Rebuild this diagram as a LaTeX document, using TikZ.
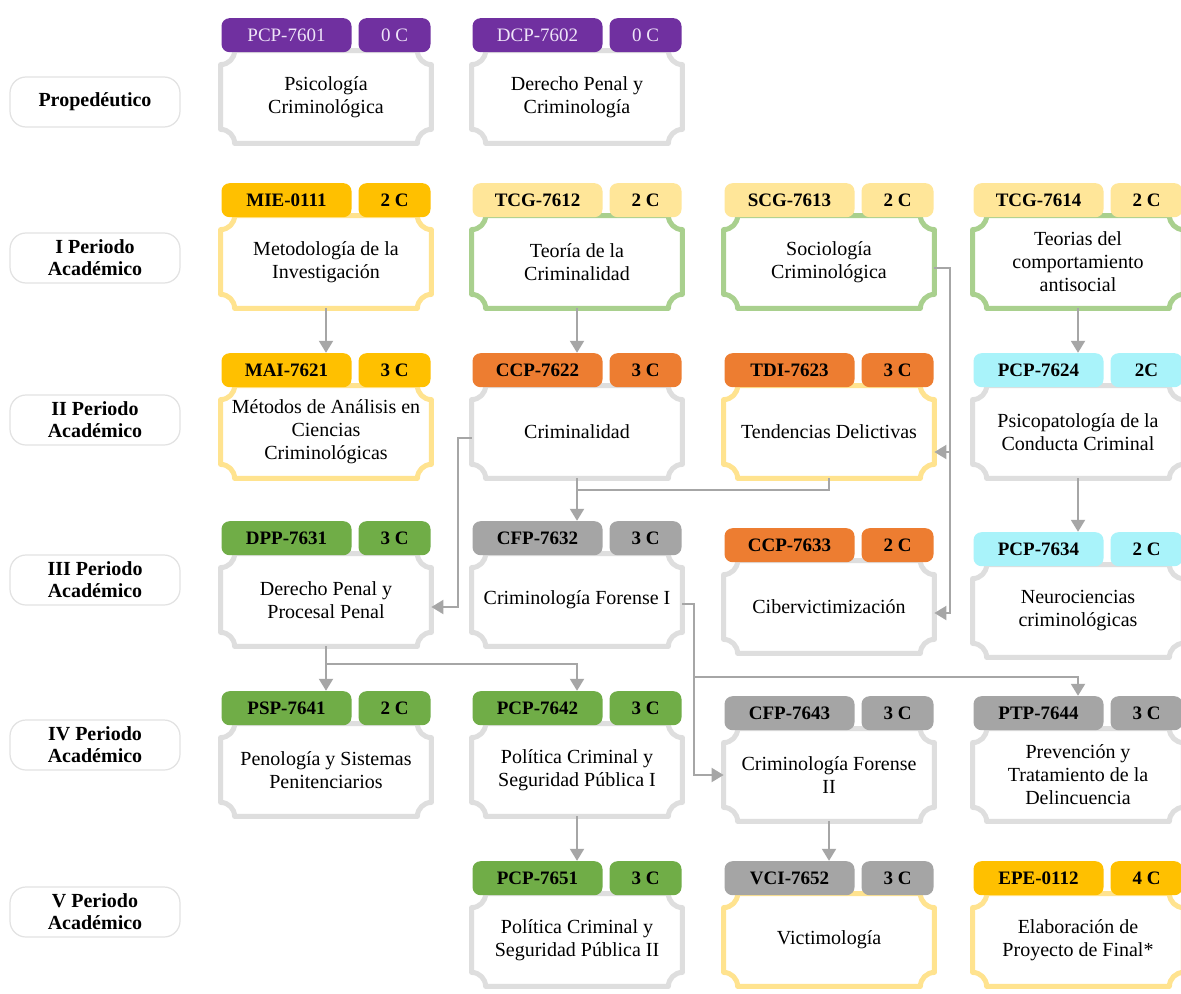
\documentclass[tikz,border=0pt]{standalone}
\usepackage{fontspec}
\setmainfont{Liberation Serif}
\usepackage{xcolor}
\usetikzlibrary{arrows.meta,positioning,calc}
\definecolor{purp}{HTML}{7030A0}
\definecolor{purptxt}{HTML}{EEE4F8}
\definecolor{gold}{HTML}{FFC000}
\definecolor{pale}{HTML}{FFE699}
\definecolor{orng}{HTML}{ED7D31}
\definecolor{cyan2}{HTML}{A9F3FA}
\definecolor{grn}{HTML}{70AD47}
\definecolor{gry}{HTML}{A5A5A5}
\definecolor{plqS}{HTML}{DEDEDE}
\definecolor{plqY}{HTML}{FFE38F}
\definecolor{plqN}{HTML}{A9D08E}
\definecolor{arrc}{HTML}{A6A6A6}
\definecolor{lab}{HTML}{E2E2E2}
% one course: plaque body + code tab + credit tab
\newcommand{\course}[7]{%
  \node[body] (#1) at (#2) {#7};
  \draw[plaque=#6] ($(#1.north west)+(7pt,0)$) -- ($(#1.north east)+(-7pt,0)$)
    arc[start angle=180,end angle=270,radius=7pt] -- ($(#1.south east)+(0,7pt)$)
    arc[start angle=90,end angle=180,radius=7pt] -- ($(#1.south west)+(7pt,0)$)
    arc[start angle=0,end angle=90,radius=7pt] -- ($(#1.north west)+(0,-7pt)$)
    arc[start angle=270,end angle=360,radius=7pt] -- cycle;
  \node[codetab, #3, anchor=south west] (#1c) at ($(#1.north west)+(0.25pt,-1pt)$) {#4};
  \node[credtab, #3, anchor=south east] (#1k) at ($(#1.north east)+(-0.25pt,-1pt)$) {#5};
}

\begin{document}
\begin{tikzpicture}[x=0.5pt, y=0.5pt,
  body/.style={minimum width=105pt, minimum height=46pt, inner sep=1pt,
               align=center, font=\fontsize{10}{11.5}\selectfont},
  plaque/.style={draw=#1, line width=2.5pt, line join=round},
  codetab/.style={rounded corners=4pt, minimum width=65pt, minimum height=17pt,
                  inner sep=0pt, font=\bfseries\fontsize{9.5}{11}\selectfont},
  credtab/.style={codetab, minimum width=36pt},
  tP/.style={fill=purp, text=purptxt, font=\fontsize{9.5}{11}\selectfont},
  tG/.style={fill=gold}, tY/.style={fill=pale}, tO/.style={fill=orng},
  tC/.style={fill=cyan2}, tN/.style={fill=grn}, tS/.style={fill=gry},
  per/.style={draw=lab, line width=0.6pt, rounded corners=8pt, minimum width=85pt,
              minimum height=25pt, inner sep=1pt, align=center,
              font=\bfseries\fontsize{10}{11}\selectfont},
  arr/.style={draw=arrc, line width=1pt, -{Triangle[length=6pt,width=7pt]}},
  ln/.style={draw=arrc, line width=1pt}]
\fill[white] (0,0) rectangle (1181,993);
\useasboundingbox (0,0) rectangle (1181,993);

% periods
\node[per] (p0) at (95,891) {Propedéutico};
\node[per] (p1) at (95,735) {I Periodo\\Académico};
\node[per] (p2) at (95,573) {II Periodo\\Académico};
\node[per] (p3) at (95,413) {III Periodo\\Académico};
\node[per] (p4) at (95,248) {IV Periodo\\Académico};
\node[per] (p5) at (95,81) {V Periodo\\Académico};

% courses
\course{pcp01}{326,896}{tP}{PCP-7601}{0 C}{plqS}{Psicología\\Criminológica}
\course{dcp02}{577,896}{tP}{DCP-7602}{0 C}{plqS}{Derecho Penal y\\Criminología}

\course{mie}{326,731}{tG}{MIE-0111}{2 C}{plqY}{Metodología de la\\Investigación}
\course{tcg12}{577,731}{tY}{TCG-7612}{2 C}{plqN}{Teoría de la\\Criminalidad}
\course{scg}{829,731}{tY}{SCG-7613}{2 C}{plqN}{Sociología\\Criminológica}
\course{tcg14}{1078,731}{tY}{TCG-7614}{2 C}{plqN}{Teorias del\\comportamiento\\antisocial}

\course{mai}{326,561}{tG}{MAI-7621}{3 C}{plqY}{Métodos de Análisis en\\Ciencias\\Criminológicas}
\course{ccp22}{577,561}{tO}{CCP-7622}{3 C}{plqS}{Criminalidad}
\course{tdi}{829,561}{tO}{TDI-7623}{3 C}{plqY}{Tendencias Delictivas}
\course{pcp24}{1078,561}{tC}{PCP-7624}{2C}{plqS}{Psicopatología de la\\Conducta Criminal}

\course{dpp}{326,393}{tN}{DPP-7631}{3 C}{plqS}{Derecho Penal y\\Procesal Penal}
\course{cfp32}{577,393}{tS}{CFP-7632}{3 C}{plqS}{Criminología Forense I}
\course{ccp33}{829,386}{tO}{CCP-7633}{2 C}{plqS}{Cibervictimización}
\course{pcp34}{1078,382}{tC}{PCP-7634}{2 C}{plqS}{Neurociencias\\criminológicas}

\course{psp}{326,223}{tN}{PSP-7641}{2 C}{plqS}{Penología y Sistemas\\Penitenciarios}
\course{pcp42}{577,223}{tN}{PCP-7642}{3 C}{plqS}{Política Criminal y\\Seguridad Pública I}
\course{cfp43}{829,218}{tS}{CFP-7643}{3 C}{plqS}{Criminología Forense\\II}
\course{ptp}{1078,218}{tS}{PTP-7644}{3 C}{plqS}{Prevención y\\Tratamiento de la\\Delincuencia}

\course{pcp51}{577,53}{tN}{PCP-7651}{3 C}{plqS}{Política Criminal y\\Seguridad Pública II}
\course{vci}{829,53}{tS}{VCI-7652}{3 C}{plqY}{Victimología}
\course{epe}{1078,53}{tG}{EPE-0112}{4 C}{plqY}{Elaboración de\\Proyecto de Final*}

% prerequisites
\draw[arr] (mie.south) -- (mie.south |- maic.north);
\draw[arr] (tcg12.south) -- (tcg12.south |- ccp22c.north);
\draw[arr] (tcg14.south) -- (tcg14.south |- pcp24c.north);
\draw[arr] ([yshift=-3pt]scg.east) -- ++(16,0) |- ([yshift=-10pt]tdi.east);
\draw[arr] ([yshift=-3pt]scg.east) -- ++(16,0) |- ([yshift=-3pt]ccp33.east);
\draw[arr] (ccp22.south) -- (ccp22.south |- cfp32c.north);
\draw[ln] (tdi.south) |- ($(ccp22.south)+(0,-12)$);
\draw[arr] ([yshift=-3pt]ccp22.west) -- ++(-14,0) |- ([yshift=-3.5pt]dpp.east);
\draw[arr] ([yshift=-2pt]cfp32.east) -- ++(12,0) |- (cfp43.west);
\coordinate (fj) at ($(cfp32.east)+(12,-77)$);
\draw[arr] (fj) -| (ptp.north |- ptpc.north);
\draw[arr] (pcp24.south) -- (pcp24.south |- pcp34c.north);
\draw[arr] (dpp.south) -- (dpp.south |- pspc.north);
\coordinate (dj) at ($(dpp.south)+(0,-18)$);
\draw[arr] (dj) -| (pcp42.north |- pcp42c.north);
\draw[arr] (pcp42.south) -- (pcp42.south |- pcp51c.north);
\draw[arr] (cfp43.south) -- (cfp43.south |- vcic.north);
\end{tikzpicture}
\end{document}
